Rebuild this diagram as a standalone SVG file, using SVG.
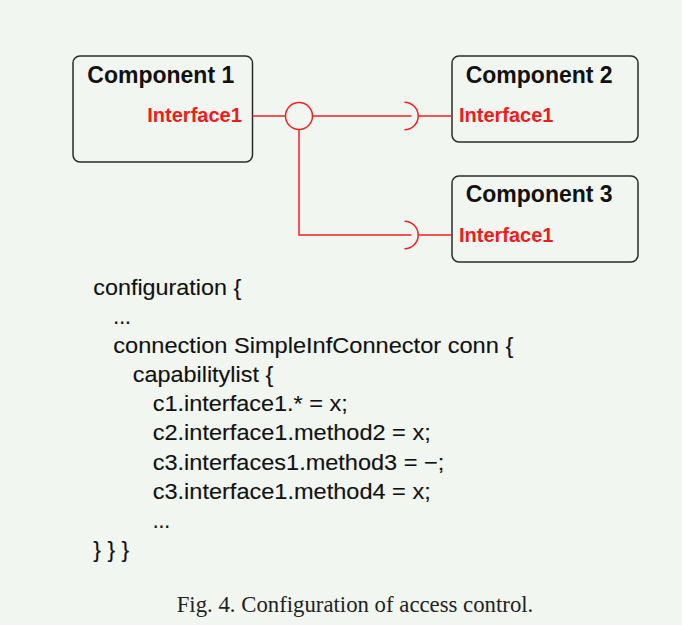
<svg xmlns="http://www.w3.org/2000/svg" width="682" height="625" viewBox="0 0 682 625">
<style>
.box{fill:none;stroke:#2a2a2a;stroke-width:1.5}
.title{font-family:"Liberation Sans",Arial,sans-serif;font-weight:bold;font-size:23px;fill:#111}
.iface{font-family:"Liberation Sans",Arial,sans-serif;font-weight:bold;font-size:20px;fill:#ee1c1c}
.wire{fill:none;stroke:#ee2222;stroke-width:1.5}
.code{font-family:"Liberation Sans",Arial,sans-serif;font-size:21.5px;fill:#111;stroke:#111;stroke-width:0.12}
.cap{font-family:"Liberation Serif","Times New Roman",serif;font-size:22.5px;fill:#222}
</style>
<rect width="682" height="625" fill="#f1f6f0"/>
<g id="component1">
<rect class="box" x="73" y="56" width="179.5" height="106" rx="7"/>
<text class="title" x="87.3" y="82.7">Component 1</text>
<text class="iface" x="147.3" y="121.7">Interface1</text>
</g>
<g id="component2">
<rect class="box" x="452" y="56" width="186" height="86" rx="7"/>
<text class="title" x="465.7" y="82.7">Component 2</text>
<text class="iface" x="459" y="121.7">Interface1</text>
</g>
<g id="component3">
<rect class="box" x="452" y="176" width="186" height="86" rx="7"/>
<text class="title" x="465.7" y="202.3">Component 3</text>
<text class="iface" x="459" y="241.7">Interface1</text>
</g>
<g id="connectors">
<line class="wire" x1="252.5" y1="116" x2="285.5" y2="116"/>
<circle class="wire" cx="299" cy="116" r="13.5"/>
<line class="wire" x1="312.5" y1="116" x2="411.5" y2="116"/>
<path class="wire" d="M404.5 102.3 A13.7 13.7 0 0 1 404.5 129.7"/>
<line class="wire" x1="418.2" y1="116" x2="452" y2="116"/>
<polyline class="wire" points="299,129.5 299,235 411.5,235"/>
<path class="wire" d="M404.5 221.3 A13.7 13.7 0 0 1 404.5 248.7"/>
<line class="wire" x1="418.2" y1="235" x2="452" y2="235"/>
</g>
<g id="code">
<text class="code" x="93.3" y="295" textLength="148" lengthAdjust="spacingAndGlyphs">configuration {</text>
<text class="code" x="113.3" y="324" textLength="17.5" lengthAdjust="spacingAndGlyphs">...</text>
<text class="code" x="113.3" y="353" textLength="400" lengthAdjust="spacingAndGlyphs">connection SimpleInfConnector conn {</text>
<text class="code" x="132.7" y="382" textLength="140.6" lengthAdjust="spacingAndGlyphs">capabilitylist {</text>
<text class="code" x="152.7" y="411" textLength="195" lengthAdjust="spacingAndGlyphs">c1.interface1.* = x;</text>
<text class="code" x="152.7" y="440" textLength="278" lengthAdjust="spacingAndGlyphs">c2.interface1.method2 = x;</text>
<text class="code" x="152.7" y="469.5" textLength="291.6" lengthAdjust="spacingAndGlyphs">c3.interfaces1.method3 = −;</text>
<text class="code" x="152.7" y="498.5" textLength="278" lengthAdjust="spacingAndGlyphs">c3.interface1.method4 = x;</text>
<text class="code" x="152.7" y="527.5" textLength="17.5" lengthAdjust="spacingAndGlyphs">...</text>
<text class="code" x="93.3" y="557" textLength="36" lengthAdjust="spacingAndGlyphs">} } }</text>
</g>
<text class="cap" x="176.7" y="611.7" textLength="356.6" lengthAdjust="spacingAndGlyphs">Fig. 4. Configuration of access control.</text>
</svg>
